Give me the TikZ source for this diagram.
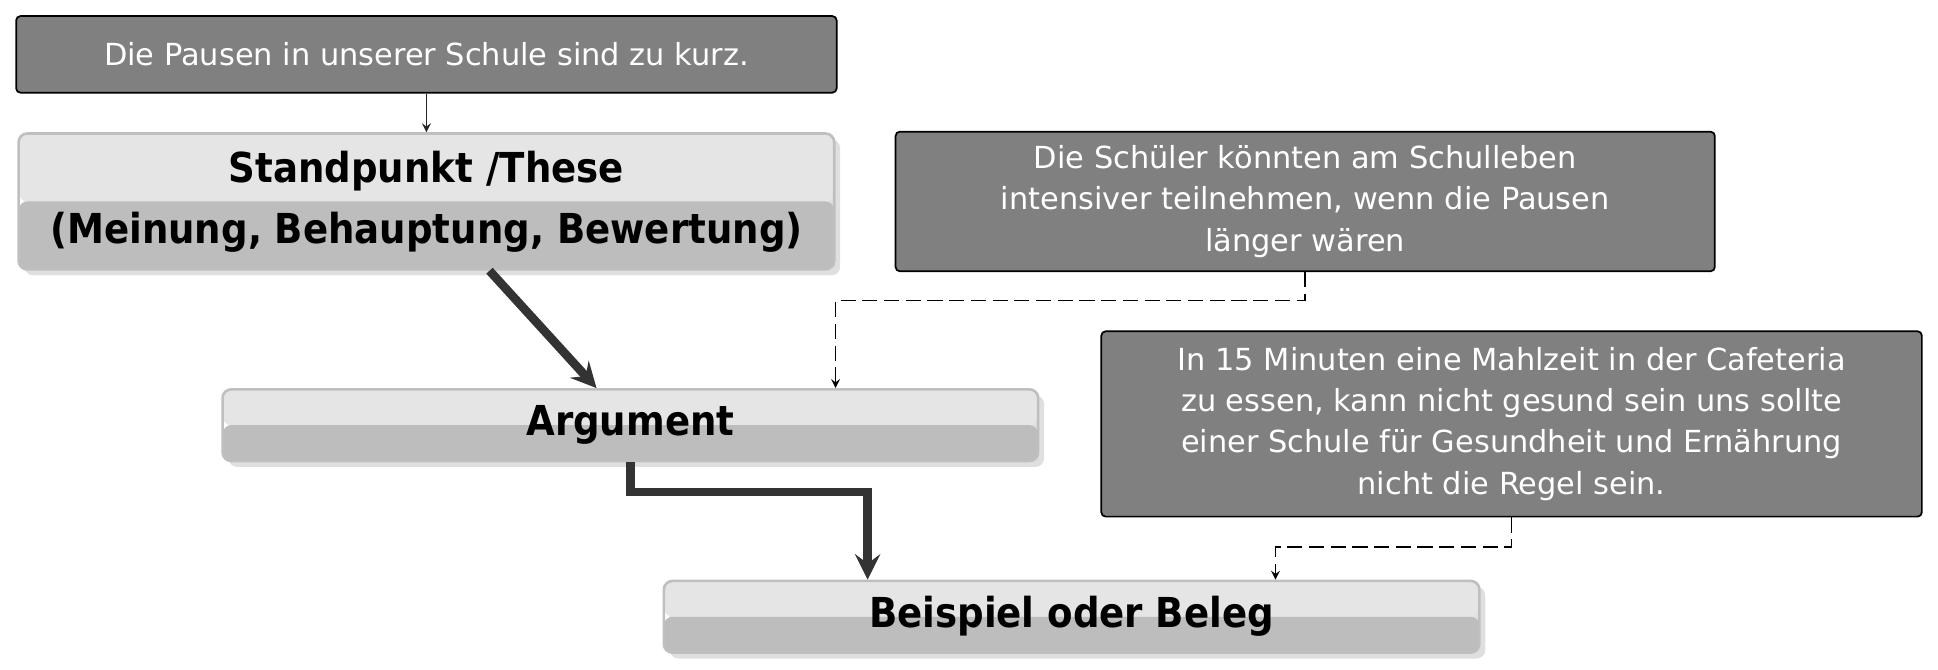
\documentclass[tikz,border=0pt]{standalone}
\usepackage{fontspec}
\setmainfont{DejaVu Sans}
\newfontfamily\headfont{DejaVu Sans Condensed}
\usetikzlibrary{positioning, calc, shadows}

\tikzset{
  note/.style={draw=black, thick, fill=black!50, rounded corners=2pt,
    text=white, align=center, font=\fontsize{14}{19}\selectfont, inner sep=0pt},
  level/.style={draw=black!25, very thick, rounded corners=4pt, inner sep=0pt, align=center,
    font=\headfont\bfseries\fontsize{19}{28}\selectfont, drop shadow={opacity=0.25},
    path picture={
      \fill[black!10] (path picture bounding box.north west) rectangle (path picture bounding box.east);
      \fill[black!26] (path picture bounding box.west) rectangle (path picture bounding box.south east);}},
  thin arrow/.style={->, >=stealth, thick, black!85},
  thick arrow/.style={->, >=stealth, line width=4pt, black!80},
  dash arrow/.style={->, >=stealth, thick, dash pattern=on 7pt off 3pt}
}

\begin{document}
\begin{tikzpicture}[x=0.02cm, y=-0.02cm]
\useasboundingbox (0,0) rectangle (1568,542);
% dark notes
\node[note, minimum width=13.28cm, minimum height=1.24cm] (claim) at (345,44) {Die Pausen in unserer Schule sind zu kurz.};
\node[note, minimum width=13.26cm, minimum height=2.26cm] (reason) at (1056,163)
  {Die Schüler könnten am Schulleben\\intensiver teilnehmen, wenn die Pausen\\länger wären};
\node[note, minimum width=13.28cm, minimum height=3.0cm] (example) at (1223,343)
  {In 15 Minuten eine Mahlzeit in der Cafeteria\\zu essen, kann nicht gesund sein uns sollte\\einer Schule für Gesundheit und Ernährung\\nicht die Regel sein.};
% levels
\node[level, minimum width=13.2cm, minimum height=2.2cm] (thesis) at (345,163)
  {Standpunkt /These\\(Meinung, Behauptung, Bewertung)};
\node[level, minimum width=13.2cm, minimum height=1.16cm] (arg) at (510,344) {Argument};
\node[level, minimum width=13.2cm, minimum height=1.16cm] (proof) at (867,499) {Beispiel oder Beleg};

\draw[thin arrow] (claim) -- (thesis);
\draw[thick arrow] (thesis) -- (arg);
\draw[thick arrow] (arg.south) -- ++(0,24) -| ($(proof.north west)+(166,0)$);
\draw[dash arrow] ($(reason.south west)+(332,0)$) -- ++(0,23) -| ($(arg.north west)+(497,0)$);
\draw[dash arrow] (example.south) -- ++(0,24) -| ($(proof.north west)+(496,0)$);
\end{tikzpicture}
\end{document}
